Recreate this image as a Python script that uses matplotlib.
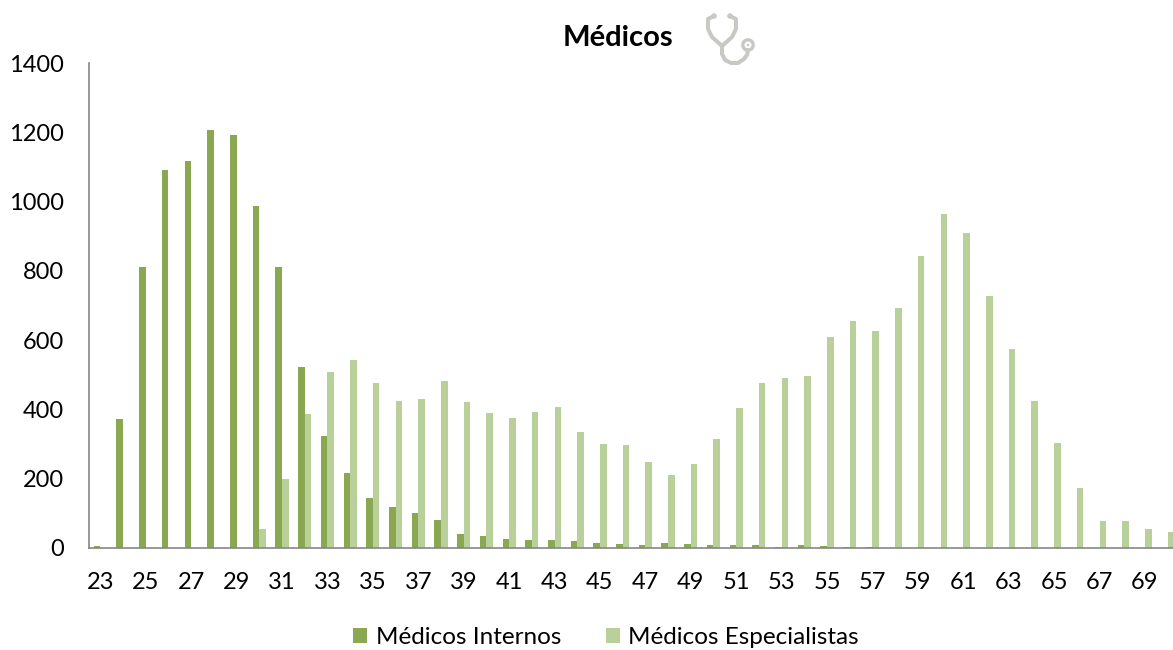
import numpy as np
import matplotlib
matplotlib.use("Agg")
import matplotlib.pyplot as plt
from matplotlib.lines import Line2D
from matplotlib.patches import Circle
from matplotlib.transforms import Affine2D

plt.rcParams['font.family'] = ['Lato', 'DejaVu Sans']

idades = list(range(23, 71))
internos = [5, 373, 810, 1092, 1118, 1207, 1192, 988, 810, 522, 323, 217, 143, 117, 102, 82,
            40, 35, 25, 22, 22, 20, 13, 12, 8, 14, 11, 10, 9, 10, 4, 10, 6, 4, 3, 1,
            1, 1, 1, 1, 0, 0, 0, 0, 0, 0, 0, 0]
especialistas = [0, 0, 0, 0, 0, 0, 0, 55, 198, 388, 509, 544, 477, 423, 431, 482,
                 422, 389, 374, 394, 408, 334, 301, 298, 247, 211, 243, 315, 403, 477, 492, 497,
                 609, 655, 627, 692, 842, 963, 909, 728, 574, 423, 303, 173, 77, 78, 56, 45]
yticks = [0, 200, 400, 600, 800, 1000, 1200, 1400]

W, H = 1173, 650
fig = plt.figure(figsize=[W / 100, H / 100], dpi=100)

# o eixo continua para la da margem direita, como no original
esq, dir_, topo, base = 89, 1179, 63, 548
ax = fig.add_axes([esq / W, 1 - base / H, (dir_ - esq) / W, (base - topo) / H])

x = np.arange(len(idades))
larg = 0.29
ax.bar(x - larg / 2, internos, larg, color='#8aa851', label='Médicos Internos')
ax.bar(x + larg / 2, especialistas, larg, color='#b9d09a', label='Médicos Especialistas')

ax.set_xlim(-0.5, len(idades) - 0.5)
ax.set_ylim(0, 1400)
ax.set_yticks(yticks)
ax.set_xticks(x[::2])
ax.set_xticklabels(idades[::2])
ax.tick_params(axis='both', length=0, labelsize=17, labelcolor='black')
ax.tick_params(axis='x', pad=17)
ax.tick_params(axis='y', pad=18)
for s in ['top', 'right']:
    ax.spines[s].set_visible(False)
for s in ['left', 'bottom']:
    ax.spines[s].set_color('#868686')
    ax.spines[s].set_linewidth(1.2)

fig.text(618 / W, 1 - 38 / H, 'Médicos', ha='center', va='center', fontsize=21, fontweight='bold')

# icone do estetoscopio, em pixeis da figura
def px(xs, ys):
    return [v / W for v in xs], [1 - v / H for v in ys]

cinza = '#c8c9c2'
tracos = [
    ([714, 708, 708, 712, 722, 732, 736, 736, 730], [16, 19, 29, 37, 46, 37, 29, 19, 16]),
    ([722, 722, 725, 731, 738, 744, 747, 748], [46, 54, 60, 63, 63, 59, 55, 50]),
]
for xs, ys in tracos:
    a, b = px(xs, ys)
    fig.add_artist(Line2D(a, b, color=cinza, lw=2.9, solid_capstyle='round', solid_joinstyle='round'))
fig.add_artist(Circle((0, 0), 5.2, transform=Affine2D().translate(748, H - 45), fc='white', ec=cinza, lw=2.4))
fig.add_artist(Circle((0, 0), 1.3, transform=Affine2D().translate(748, H - 45), fc=cinza, ec='none'))
for cx in [714, 730]:
    fig.add_artist(Circle((0, 0), 2.8, transform=Affine2D().translate(cx, H - 16), fc=cinza, ec='none'))

handles, labels = ax.get_legend_handles_labels()
fig.legend(handles, labels, loc='center', bbox_to_anchor=(606 / W, 1 - 638 / H), ncol=2, frameon=False,
           fontsize=17.5, handlelength=0.58, handleheight=0.58, handletextpad=0.33, columnspacing=1.85,
           borderpad=0, borderaxespad=0)

fig.savefig('out.png', dpi=100)
